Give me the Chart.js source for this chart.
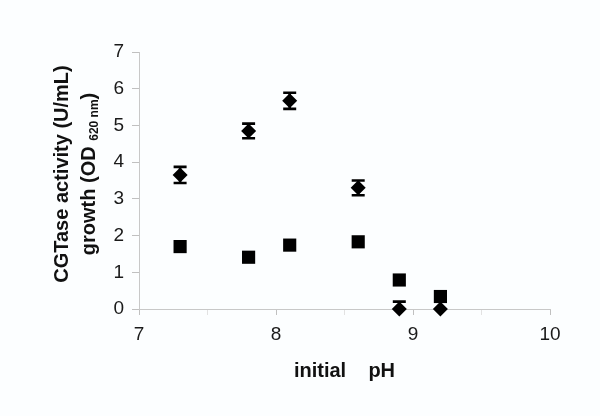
<!DOCTYPE html>
<html><head><meta charset="utf-8">
<script src="https://cdn.jsdelivr.net/npm/chart.js@4/dist/chart.umd.min.js"></script>
<style>html,body{margin:0;padding:0;background:#fcfeff}#wrap{width:600px;height:416px}</style>
</head><body><div id="wrap"><canvas id="c" width="600" height="416"></canvas></div>
<script>
const phValues = [7.3, 7.8, 8.1, 8.6, 8.9, 9.2];
const activity = [3.65, 4.85, 5.67, 3.3, 0, 0];
const activityErr = [0.22, 0.2, 0.22, 0.2, 0.2, 0];
const growth = [1.70, 1.41, 1.74, 1.83, 0.79, 0.34];
const xTickLabels = ['7', '8', '9', '10'];
const yTitleLine1 = 'CGTase activity (U/mL)';
const yTitleLine2 = ['growth (OD ', '620 nm', ')'];
const xTitle = 'initial    pH';

const FONT = '"Liberation Sans", Arial, sans-serif';

const errorBars = {
  id: 'errorBars',
  afterDatasetsDraw(chart) {
    const {ctx, chartArea, scales: {x, y}} = chart;
    ctx.save();
    ctx.beginPath();
    ctx.rect(chartArea.left - 20, chartArea.top - 20, chartArea.right - chartArea.left + 40, chartArea.bottom - chartArea.top + 20);
    ctx.clip();
    ctx.strokeStyle = '#000';
    ctx.lineWidth = 2.6;
    phValues.forEach((p, i) => {
      const e = activityErr[i];
      if (!e) return;
      const px = x.getPixelForValue(p);
      const top = y.getPixelForValue(activity[i] + e);
      const bot = y.getPixelForValue(activity[i] - e);
      ctx.beginPath();
      ctx.moveTo(px, top); ctx.lineTo(px, bot);
      ctx.moveTo(px - 6.5, top); ctx.lineTo(px + 6.5, top);
      ctx.moveTo(px - 6.5, bot); ctx.lineTo(px + 6.5, bot);
      ctx.stroke();
    });
    ctx.restore();
  }
};

const titles = {
  id: 'titles',
  afterDraw(chart) {
    const {ctx, chartArea} = chart;
    ctx.save();
    ctx.fillStyle = '#111';
    ctx.textBaseline = 'alphabetic';
    ctx.textAlign = 'center';
    const big = 'bold 20px ' + FONT, small = 'bold 12px ' + FONT;
    ctx.font = big;
    ctx.fillText(xTitle, (chartArea.left + chartArea.right) / 2, 377);
    const cy = 174;
    ctx.translate(68, cy);
    ctx.rotate(-Math.PI / 2);
    ctx.fillText(yTitleLine1, 0, 0);
    // second line with subscript
    ctx.font = big; const w1 = ctx.measureText(yTitleLine2[0]).width;
    const w3 = ctx.measureText(yTitleLine2[2]).width;
    ctx.font = small; const w2 = ctx.measureText(yTitleLine2[1]).width;
    const total = w1 + w2 + w3;
    let sx = -total / 2;
    ctx.textAlign = 'left';
    ctx.font = big; ctx.fillText(yTitleLine2[0], sx, 27); sx += w1;
    ctx.font = small; ctx.fillText(yTitleLine2[1], sx, 30); sx += w2;
    ctx.font = big; ctx.fillText(yTitleLine2[2], sx, 27);
    ctx.restore();
  }
};

new Chart(document.getElementById('c'), {
  type: 'scatter',
  data: {
    datasets: [
      {
        label: 'CGTase activity',
        data: phValues.map((p, i) => ({x: p, y: activity[i]})),
        pointStyle: 'rectRot',
        pointRadius: 7.5,
        pointHoverRadius: 7.5,
        backgroundColor: '#000',
        borderColor: '#000',
        borderWidth: 0,
        clip: false
      },
      {
        label: 'growth',
        data: phValues.map((p, i) => ({x: p, y: growth[i]})),
        pointStyle: 'rect',
        pointRadius: 9.3,
        pointHoverRadius: 9.3,
        backgroundColor: '#000',
        borderColor: '#000',
        borderWidth: 0,
        clip: false
      }
    ]
  },
  options: {
    responsive: false,
    animation: false,
    events: [],
    layout: {padding: {top: 52, right: 50, left: 0, bottom: 0}},
    plugins: {legend: {display: false}, tooltip: {enabled: false}},
    scales: {
      x: {
        type: 'linear', min: 7, max: 10,
        border: {color: '#c8c8c8', width: 1},
        grid: {
          drawOnChartArea: false, tickLength: 6,
          color: (c) => Number.isInteger(c.tick && c.tick.value) ? '#c0c0c0' : '#e2e2e2'
        },
        ticks: {
          stepSize: 0.5, autoSkip: false, maxRotation: 0, padding: 8,
          color: '#1a1a1a', font: {family: FONT, size: 19},
          callback: (v) => {
            const idx = Number.isInteger(v) ? v - 7 : -1;
            return idx >= 0 ? xTickLabels[idx] : '';
          }
        },
        afterFit: (s) => { s.height = 416 - 309; }
      },
      y: {
        type: 'linear', min: 0, max: 7,
        border: {color: '#c8c8c8', width: 1},
        grid: {drawOnChartArea: false, color: '#c0c0c0', tickLength: 7},
        ticks: {stepSize: 1, padding: 8, color: '#1a1a1a', font: {family: FONT, size: 19}},
        afterFit: (s) => { s.width = 139; }
      }
    }
  },
  plugins: [errorBars, titles]
});
</script></body></html>
